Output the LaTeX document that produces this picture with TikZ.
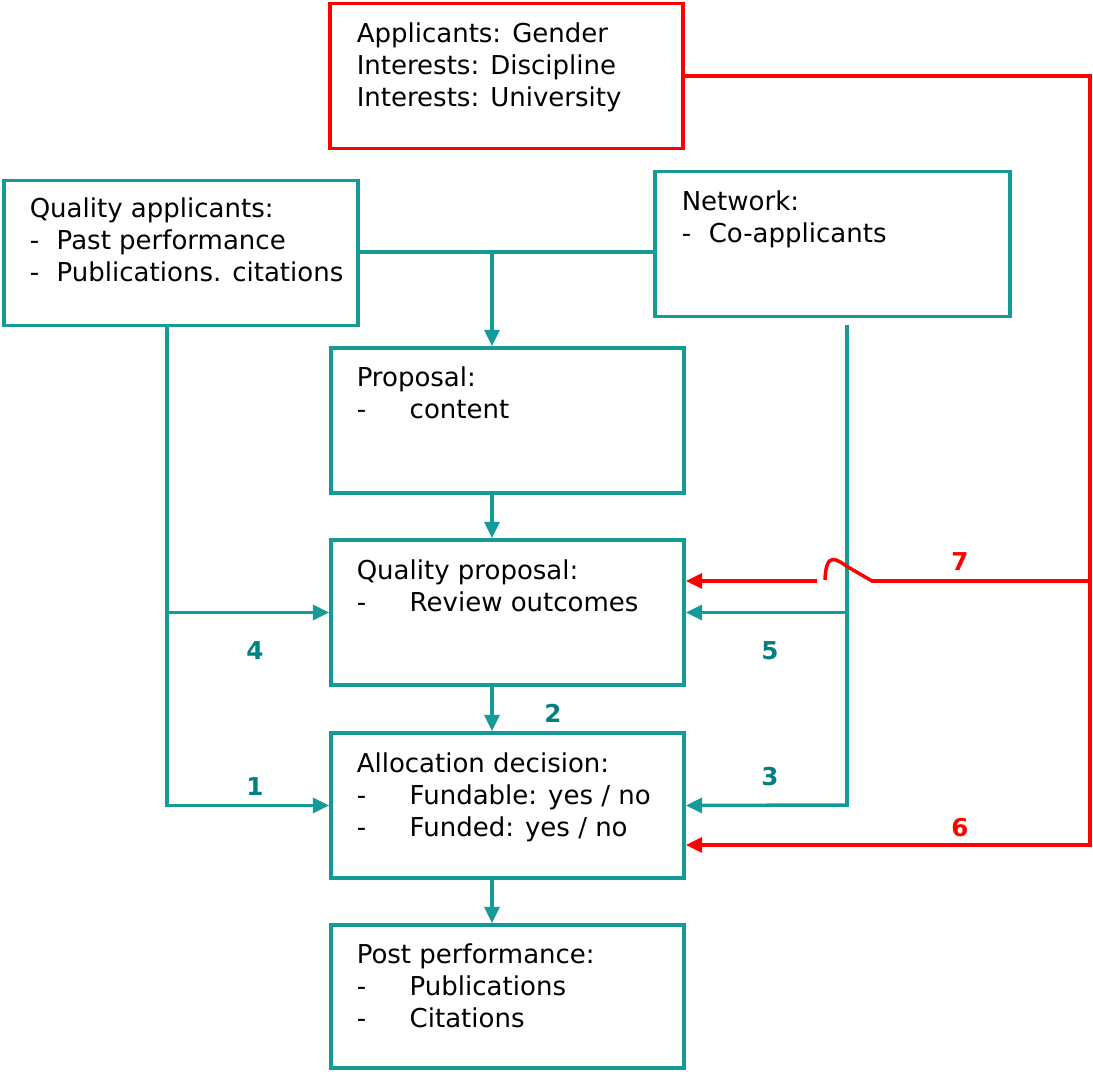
\documentclass[tikz,border=0pt]{standalone}
\usepackage{fontspec}
\setmainfont{DejaVu Sans}
\usepackage{xcolor}
\usetikzlibrary{arrows.meta}
\definecolor{tealline}{RGB}{20,155,152}
\definecolor{tealnum}{RGB}{0,128,128}
\definecolor{redline}{RGB}{255,0,0}
\newcommand{\dashitem}[2][1.06cm]{\makebox[#1][l]{-}#2}

\begin{document}
\begin{tikzpicture}[x=0.02cm,y=-0.02cm,>={Triangle[length=0.33cm,width=0.3cm]},line width=2pt,
	box/.style={draw=tealline,rectangle,minimum width=7.06cm,minimum height=2.9cm,inner sep=0pt},
	txt/.style={anchor=base west,align=left,inner sep=0pt,font=\fontsize{14.8}{18.2}\selectfont},
	num/.style={text=tealnum,font=\fontsize{14}{16}\selectfont\bfseries},
	tl/.style={draw=tealline},
	rl/.style={draw=redline}]
	\useasboundingbox (0,0) rectangle (1093,1072);
	% boxes
	\node[box,draw=redline] (appl) at (506.5,76) {};
	\node[box,minimum width=7.08cm] (qapp) at (181,253) {};
	\node[box,minimum width=7.1cm] (netw) at (832.5,244) {};
	\node[box] (prop) at (507.5,420.5) {};
	\node[box] (qprop) at (507.5,612.5) {};
	\node[box] (alloc) at (507.5,805.5) {};
	\node[box,minimum height=2.86cm] (post) at (507.5,996.5) {};
	% texts (anchored at the baseline of the last line)
	\node[txt] (applt) at (355,106) {Applicants: Gender\\Interests: Discipline\\Interests: University};
	\node[txt] (qappt) at (28,281) {Quality applicants:\\\dashitem[0.54cm]{Past performance}\\\dashitem[0.54cm]{Publications. citations}};
	\node[txt] (netwt) at (680,242) {Network:\\\dashitem[0.54cm]{Co-applicants}};
	\node[txt] (propt) at (355,418) {Proposal:\\\dashitem{content}};
	\node[txt] (qpropt) at (355,611) {Quality proposal:\\\dashitem{Review outcomes}};
	\node[txt] (allott) at (355,836) {Allocation decision:\\\dashitem{Fundable: yes / no}\\\dashitem{Funded: yes / no}};
	\node[txt] (postt) at (355,1027) {Post performance:\\\dashitem{Publications}\\\dashitem{Citations}};
	% middle column
	\coordinate (top) at (492,252);
	\draw[tl] (qapp.east |- top) -- (netw.west |- top);
	\draw[tl,->] (top) -- (top |- prop.north);
	\draw[tl,->] (top |- prop.south) -- (top |- qprop.north);
	\draw[tl,->] (top |- qprop.south) -- (top |- alloc.north);
	\draw[tl,->] (top |- alloc.south) -- (top |- post.north);
	% left side
	\coordinate (lft) at (167,805);
	\draw[tl,->] (qapp.south -| lft) |- (alloc.west);
	\draw[tl,->] (lft |- qprop.west) -- (qprop.west);
	% right side
	\coordinate (rgt) at (847,805);
	\coordinate (rgttop) at (847,325);
	\draw[tl,->] (rgttop) -- (rgt) -- (alloc.east);
	\draw[tl,->] (rgttop |- qprop.east) -- (qprop.east);
	% red
	\coordinate (rc) at (1090,845);
	\coordinate (r7) at (1090,581);
	\coordinate (hopa) at (872,581);
	\coordinate (hopb) at (825,580);
	\coordinate (hopc) at (817,581);
	\draw[rl,->] (appl.east) -| (rc) -- (alloc.east |- rc);
	\draw[rl] (r7) -- (hopa) -- (848,567) .. controls (836,559) and (826,551) .. (hopb);
	\draw[rl,->] (hopc) -- (qprop.east |- hopc);
	% numbers
	\node[num] (n1) at (255,787) {1};
	\node[num] (n2) at (553,713) {2};
	\node[num] (n3) at (770,777) {3};
	\node[num] (n4) at (255,651) {4};
	\node[num] (n5) at (770,651) {5};
	\node[num,text=redline] (n6) at (960,828) {6};
	\node[num,text=redline] (n7) at (960,562) {7};
\end{tikzpicture}
\end{document}
